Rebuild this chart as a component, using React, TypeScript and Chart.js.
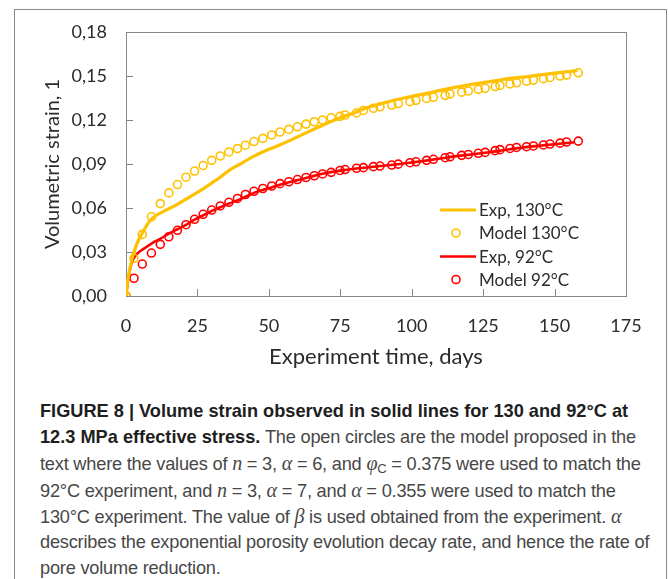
import React, { useEffect, useRef } from "react";
import { Chart, registerables } from "chart.js";

Chart.register(...registerables);

// ---- data ----
const EXP_130_DAYS = [0, 0.8, 2, 3.7, 5.7, 8.9, 12, 15, 18, 21, 24, 27, 30, 33, 36, 40, 45, 50, 55, 60, 65, 70, 75, 80, 85, 90, 95, 100, 105, 110, 115, 120, 125, 130, 135, 140, 145, 150, 155, 158];
const EXP_130_STRAIN = [0, 0.013, 0.0245, 0.035, 0.043, 0.0525, 0.0565, 0.0595, 0.0625, 0.066, 0.0695, 0.073, 0.077, 0.081, 0.0855, 0.09, 0.0955, 0.1, 0.104, 0.1085, 0.113, 0.1175, 0.1215, 0.125, 0.1288, 0.1315, 0.134, 0.1362, 0.138, 0.1402, 0.1422, 0.144, 0.1455, 0.147, 0.1485, 0.1495, 0.1508, 0.152, 0.153, 0.1538];

const EXP_92_DAYS = [0, 0.7, 1.5, 2.5, 4, 6, 8, 10, 12, 15, 18, 21, 24, 27, 30, 33, 36, 40, 45, 50, 55, 60, 65, 70, 75, 80, 85, 90, 95, 100, 105, 110, 115, 120, 125, 130, 135, 140, 145, 150, 155, 157];
const EXP_92_STRAIN = [0, 0.01, 0.019, 0.025, 0.029, 0.032, 0.0345, 0.037, 0.039, 0.0425, 0.0455, 0.0485, 0.052, 0.055, 0.058, 0.0605, 0.063, 0.066, 0.0705, 0.0735, 0.0765, 0.079, 0.0815, 0.0838, 0.0855, 0.0868, 0.0878, 0.0888, 0.0898, 0.091, 0.0923, 0.0937, 0.0952, 0.0963, 0.0975, 0.0988, 0.1002, 0.1015, 0.1025, 0.1035, 0.1045, 0.1048];

const MODEL_DAYS = [0, 2.8, 5.7, 8.9, 12, 15, 18, 21, 24, 27, 30, 33, 36, 39, 41.8, 44.8, 47.9, 51, 53.9, 57, 60, 63, 65.9, 68.8, 71.8, 74.9, 76.7, 80.7, 83.1, 86.6, 88.9, 93, 95.3, 99.4, 101.5, 105.2, 107.6, 111.7, 113.4, 117.5, 119.8, 123.3, 125.7, 129.2, 130.9, 134.4, 136.7, 140.2, 142.6, 146.1, 148.4, 151.9, 154.2, 158.3];
const MODEL_130 = [0, 0.0257, 0.042, 0.054, 0.063, 0.0703, 0.076, 0.081, 0.0852, 0.089, 0.0925, 0.0955, 0.0982, 0.1005, 0.1028, 0.1053, 0.1075, 0.1098, 0.1118, 0.1136, 0.1154, 0.1172, 0.1188, 0.12, 0.1215, 0.1225, 0.1234, 0.1248, 0.1265, 0.128, 0.129, 0.1302, 0.1312, 0.1325, 0.1334, 0.1347, 0.1355, 0.1368, 0.1378, 0.139, 0.1398, 0.1409, 0.1416, 0.1428, 0.1436, 0.1446, 0.1454, 0.1465, 0.1472, 0.1482, 0.149, 0.15, 0.1506, 0.1522];
const MODEL_92 = [0, 0.0121, 0.0218, 0.0293, 0.0352, 0.0404, 0.0448, 0.0486, 0.0523, 0.0557, 0.0586, 0.0614, 0.0639, 0.0665, 0.0692, 0.0714, 0.0733, 0.075, 0.0766, 0.0779, 0.0794, 0.0808, 0.082, 0.0832, 0.0843, 0.0856, 0.0862, 0.0871, 0.0875, 0.0882, 0.0886, 0.0893, 0.0899, 0.0909, 0.0915, 0.0925, 0.0932, 0.0943, 0.0949, 0.0959, 0.0965, 0.0973, 0.0979, 0.0991, 0.0998, 0.1006, 0.1013, 0.1018, 0.1023, 0.103, 0.1036, 0.1042, 0.105, 0.1056];

const X_TICKS = [0, 25, 50, 75, 100, 125, 150, 175];
const Y_TICKS = [0, 0.03, 0.06, 0.09, 0.12, 0.15, 0.18];
const SERIES_LABELS = ["Exp, 130°C", "Model 130°C", "Exp, 92°C", "Model 92°C"];
const X_TITLE = "Experiment time, days";
const Y_TITLE = "Volumetric strain, 1";

const GOLD = "#FFC000";
const RED = "#FF0000";
const FRAME = "#868686";
const OUTER_FRAME = "#8a8a8a";
const TEXT = "#2b2b2b";

const toXY = (xs: number[], ys: number[]) => xs.map((x, i) => ({ x, y: ys[i] }));

const frameTicksPlugin = {
  id: "frameTicks",
  beforeDatasetsDraw(chart: any) {
    const { ctx, chartArea, scales } = chart;
    const { left, right, top, bottom } = chartArea;
    ctx.save();
    ctx.strokeStyle = FRAME;
    ctx.lineWidth = 1;
    ctx.strokeRect(Math.round(left) + 0.5, Math.round(top) + 0.5, Math.round(right - left), Math.round(bottom - top));
    ctx.beginPath();
    X_TICKS.forEach((v) => {
      const px = Math.round(scales.x.getPixelForValue(v)) + 0.5;
      ctx.moveTo(px, bottom);
      ctx.lineTo(px, bottom - 7);
    });
    Y_TICKS.forEach((v) => {
      const py = Math.round(scales.y.getPixelForValue(v)) + 0.5;
      ctx.moveTo(left, py);
      ctx.lineTo(left + 7, py);
    });
    ctx.stroke();
    ctx.restore();
  },
};

const legendPlugin = {
  id: "innerLegend",
  afterDatasetsDraw(chart: any) {
    const { ctx, chartArea } = chart;
    const { right, bottom } = chartArea;
    const rows = [bottom - 86, bottom - 63, bottom - 39.5, bottom - 16.5];
    ctx.save();
    ctx.font = "17px Lato";
    ctx.textBaseline = "middle";
    ctx.textAlign = "left";
    chart.data.datasets.forEach((ds: any, i: number) => {
      const y = rows[i];
      ctx.strokeStyle = ds.borderColor;
      ctx.lineWidth = ds.borderWidth;
      ctx.beginPath();
      if (ds.showLine) {
        ctx.moveTo(right - 186, y);
        ctx.lineTo(right - 150, y);
      } else {
        ctx.arc(right - 170, y, ds.pointRadius, 0, Math.PI * 2);
      }
      ctx.stroke();
      ctx.fillStyle = TEXT;
      ctx.fillText(ds.label, right - 147, y + 1);
    });
    ctx.restore();
  },
};

const mathStyle: React.CSSProperties = { fontFamily: '"Liberation Serif", "DejaVu Serif", serif', fontStyle: "italic", fontSize: 20 };

export default function App() {
  const ref = useRef<HTMLCanvasElement>(null);

  useEffect(() => {
    if (!ref.current) return;
    const chart = new Chart(ref.current, {
      type: "scatter",
      data: {
        datasets: [
          {
            label: SERIES_LABELS[0],
            data: toXY(EXP_130_DAYS, EXP_130_STRAIN),
            showLine: true,
            borderColor: GOLD,
            backgroundColor: GOLD,
            borderWidth: 3.2,
            pointRadius: 0,
            cubicInterpolationMode: "monotone",
          },
          {
            label: SERIES_LABELS[1],
            data: toXY(MODEL_DAYS, MODEL_130),
            showLine: false,
            borderColor: GOLD,
            backgroundColor: "rgba(0,0,0,0)",
            borderWidth: 1.6,
            pointRadius: 4,
            pointStyle: "circle",
          },
          {
            label: SERIES_LABELS[2],
            data: toXY(EXP_92_DAYS, EXP_92_STRAIN),
            showLine: true,
            borderColor: RED,
            backgroundColor: RED,
            borderWidth: 2.6,
            pointRadius: 0,
            cubicInterpolationMode: "monotone",
          },
          {
            label: SERIES_LABELS[3],
            data: toXY(MODEL_DAYS, MODEL_92),
            showLine: false,
            borderColor: RED,
            backgroundColor: "rgba(0,0,0,0)",
            borderWidth: 1.6,
            pointRadius: 4,
            pointStyle: "circle",
          },
        ] as any,
      },
      options: {
        responsive: false,
        animation: false,
        devicePixelRatio: 1,
        layout: { padding: { left: 0, right: 39, top: 22, bottom: 0 } },
        plugins: { legend: { display: false }, tooltip: { enabled: false } },
        scales: {
          x: {
            type: "linear",
            min: 0,
            max: 175,
            afterBuildTicks: (s: any) => {
              s.ticks = X_TICKS.map((v) => ({ value: v }));
            },
            afterFit: (s: any) => {
              s.height = 89;
            },
            grid: { display: false, drawTicks: true, tickLength: 19 },
            border: { display: false },
            ticks: {
              padding: 0,
              autoSkip: false,
              maxRotation: 0,
              color: TEXT,
              font: { family: "Lato", size: 18 },
              callback: (v: any) => String(v),
            },
            title: {
              display: true,
              text: X_TITLE,
              color: TEXT,
              font: { family: "Lato", size: 22 },
              padding: { top: 0, bottom: 15 },
            },
          },
          y: {
            type: "linear",
            min: 0,
            max: 0.18,
            afterBuildTicks: (s: any) => {
              s.ticks = Y_TICKS.map((v) => ({ value: v }));
            },
            afterFit: (s: any) => {
              s.width = 111;
            },
            grid: { display: false, drawTicks: true, tickLength: 19 },
            border: { display: false },
            ticks: {
              padding: 0,
              autoSkip: false,
              color: TEXT,
              font: { family: "Lato", size: 18 },
              callback: (v: any) => Number(v).toFixed(2).replace(".", ","),
            },
            title: {
              display: true,
              text: Y_TITLE,
              color: TEXT,
              font: { family: "Lato", size: 20 },
              padding: { top: 26, bottom: 0 },
            },
          },
        },
      } as any,
      plugins: [frameTicksPlugin, legendPlugin],
    });
    return () => chart.destroy();
  }, []);

  const caption: React.CSSProperties = {
    position: "absolute",
    left: 40,
    top: 398,
    fontFamily: '"Liberation Sans", Arial, sans-serif',
    fontSize: 18.2,
    color: "#474747",
    whiteSpace: "nowrap",
    letterSpacing: "-0.2px",
  };
  const line: React.CSSProperties = { height: 26.2, lineHeight: "26.2px", overflow: "visible" };
  const bold: React.CSSProperties = { fontWeight: "bold", color: "#1e1e1e", letterSpacing: "0px" };

  return (
    <div style={{ position: "absolute", left: 0, top: 0, width: 669, height: 579, background: "#fff", overflow: "hidden" }}>
      <div
        style={{
          position: "absolute",
          left: 14,
          top: 9,
          width: 653,
          height: 620,
          border: `1px solid ${OUTER_FRAME}`,
          boxSizing: "border-box",
        }}
      />
      <div style={{ position: "absolute", left: 15, top: 10, width: 650, height: 375 }}>
        <canvas ref={ref} width={650} height={375} style={{ width: 650, height: 375, display: "block" }} />
      </div>
      <div style={caption}>
        <div style={line}>
          <span style={bold}>FIGURE 8 | Volume strain observed in solid lines for 130 and 92°C at</span>
        </div>
        <div style={line}>
          <span style={bold}>12.3 MPa effective stress.</span> The open circles are the model proposed in the
        </div>
        <div style={line}>
          text where the values of <span style={mathStyle}>n</span> = 3, <span style={mathStyle}>α</span> = 6, and{" "}
          <span style={mathStyle}>φ</span>
          <span style={{ fontSize: 13, verticalAlign: "-3px" }}>C</span> = 0.375 were used to match the
        </div>
        <div style={line}>
          92°C experiment, and <span style={mathStyle}>n</span> = 3, <span style={mathStyle}>α</span> = 7, and{" "}
          <span style={mathStyle}>α</span> = 0.355 were used to match the
        </div>
        <div style={line}>
          130°C experiment. The value of <span style={mathStyle}>β</span> is used obtained from the experiment.{" "}
          <span style={mathStyle}>α</span>
        </div>
        <div style={line}>describes the exponential porosity evolution decay rate, and hence the rate of</div>
        <div style={line}>pore volume reduction.</div>
      </div>
    </div>
  );
}
